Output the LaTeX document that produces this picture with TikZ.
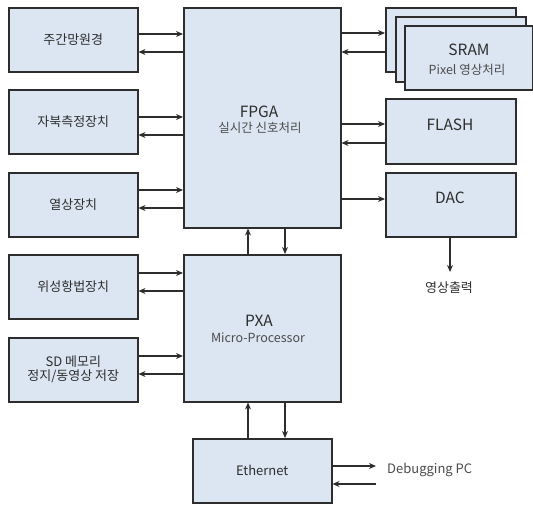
\documentclass[tikz,border=0pt]{standalone}
\usepackage{fontspec}
\setmainfont{Noto Sans CJK KR}
\usetikzlibrary{arrows.meta}
\definecolor{boxblue}{RGB}{220,230,242}
\definecolor{edge}{RGB}{45,45,45}
\definecolor{txt}{RGB}{45,45,45}
\definecolor{subtxt}{RGB}{75,75,75}
\tikzset{
  blk/.style={draw=edge, fill=boxblue, line width=1.5pt, inner sep=0pt, align=center, text=txt, anchor=north west},
  arr/.style={draw=edge, line width=1.3pt, -{Stealth[length=7pt,width=6pt]}},
  lbl/.style={font=\fontsize{13}{15}\selectfont, text=txt},
  ttlf/.style={font=\fontsize{15.5}{17}\selectfont, text=txt, inner sep=0pt},
}
\newcommand{\ttl}[1]{{\fontsize{15.5}{17}\selectfont #1}}
\newcommand{\stl}[1]{{\fontsize{12.5}{15}\selectfont\color{subtxt} #1}}
\begin{document}
\begin{tikzpicture}[x=1pt,y=-1pt]
\useasboundingbox (0,0) rectangle (533,506);
% left column
\node[blk, lbl, minimum width=129pt, minimum height=64pt] (b1) at (8,7) {주간망원경};
\node[blk, lbl, minimum width=129pt, minimum height=64pt] (b2) at (8,89) {자북측정장치};
\node[blk, lbl, minimum width=129pt, minimum height=64pt] (b3) at (8,172) {열상장치};
\node[blk, lbl, minimum width=129pt, minimum height=64pt] (b4) at (8,254) {위성항법장치};
\node[blk, lbl, minimum width=129pt, minimum height=64pt] (b5) at (8,337) {SD 메모리\\[-1pt]정지/동영상 저장};
% centre
\node[blk, minimum width=157pt, minimum height=220pt] (fpga) at (183,7) {};
\node[ttlf] (fpgaT) at (259,112) {FPGA};
\node[inner sep=0pt, font=\fontsize{12.5}{15}\selectfont, text=subtxt] (fpgaS) at (260,128) {실시간 신호처리};
\node[blk, minimum width=157pt, minimum height=147pt] (pxa) at (183,254) {};
\node[ttlf] (pxaT) at (259,321) {PXA};
\node[inner sep=0pt, font=\fontsize{12.5}{15}\selectfont, text=subtxt] (pxaS) at (258,338) {Micro-Processor};
\node[blk, lbl, minimum width=139pt, minimum height=64pt] (eth) at (192,438) {Ethernet};
% right column
\node[blk, minimum width=130pt, minimum height=64pt] (sramA) at (385,7) {};
\node[blk, minimum width=130pt, minimum height=65pt] (sramB) at (395,16) {};
\node[blk, minimum width=128pt, minimum height=64pt] (sram) at (404,25) {};
\node[ttlf] (sramT) at (469,50) {SRAM};
\node[inner sep=0pt, font=\fontsize{12.5}{15}\selectfont, text=subtxt] (sramS) at (467,70) {Pixel 영상처리};
\node[blk, minimum width=130pt, minimum height=65pt] (flash) at (385,98) {};
\node[ttlf] (flashT) at (450,125) {FLASH};
\node[blk, minimum width=130pt, minimum height=64pt] (dac) at (385,172) {};
\node[ttlf] (dacT) at (450,198) {DAC};
% outputs
\coordinate (vout) at (450,272);
\node[lbl, inner sep=0pt] (voutl) at (449,288) {영상출력};
\coordinate (pcA) at (376,466);
\coordinate (pcB) at (376,484);
\node[inner sep=0pt, anchor=west, text=subtxt, font=\fontsize{13}{15}\selectfont] (pc) at (387,470) {Debugging PC};
% left arrows
\draw[arr] (b1.east |- 0,34) -- (fpga.west |- 0,34);
\draw[arr] (fpga.west |- 0,52) -- (b1.east |- 0,52);
\draw[arr] (b2.east |- 0,117) -- (fpga.west |- 0,117);
\draw[arr] (fpga.west |- 0,135) -- (b2.east |- 0,135);
\draw[arr] (b3.east |- 0,190) -- (fpga.west |- 0,190);
\draw[arr] (fpga.west |- 0,208) -- (b3.east |- 0,208);
\draw[arr] (b4.east |- 0,273) -- (pxa.west |- 0,273);
\draw[arr] (pxa.west |- 0,291) -- (b4.east |- 0,291);
\draw[arr] (b5.east |- 0,356) -- (pxa.west |- 0,356);
\draw[arr] (pxa.west |- 0,374) -- (b5.east |- 0,374);
% right arrows
\draw[arr] (fpga.east |- 0,33) -- (sramA.west |- 0,33);
\draw[arr] (sramA.west |- 0,52) -- (fpga.east |- 0,52);
\draw[arr] (fpga.east |- 0,124) -- (flash.west |- 0,124);
\draw[arr] (flash.west |- 0,143) -- (fpga.east |- 0,143);
\draw[arr] (fpga.east |- 0,199) -- (dac.west |- 0,199);
\draw[arr] (dac.south -| 450,0) -- (vout);
% vertical arrows
\draw[arr] (pxa.north -| 248,0) -- (fpga.south -| 248,0);
\draw[arr] (fpga.south -| 285,0) -- (pxa.north -| 285,0);
\draw[arr] (eth.north -| 248,0) -- (pxa.south -| 248,0);
\draw[arr] (pxa.south -| 285,0) -- (eth.north -| 285,0);
% ethernet to PC
\draw[arr] (eth.east |- pcA) -- (pcA);
\draw[arr] (pcB) -- (eth.east |- pcB);
\end{tikzpicture}
\end{document}
